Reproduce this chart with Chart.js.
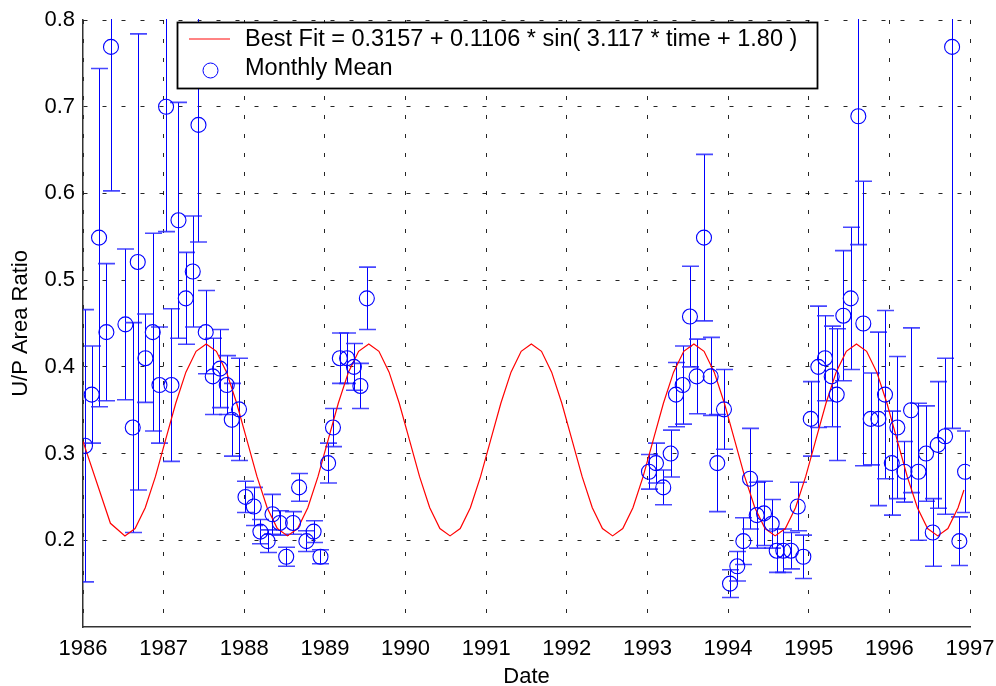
<!DOCTYPE html>
<html>
<head>
<meta charset="utf-8">
<script src="https://cdn.jsdelivr.net/npm/chart.js@4.4.1/dist/chart.umd.min.js"></script>
<style>
  html, body { margin: 0; padding: 0; background: #ffffff; }
  #wrap { width: 996px; height: 686px; position: relative; }
  canvas { display: block; }
</style>
</head>
<body>
<div id="wrap"><canvas id="c" width="996" height="686"></canvas></div>
<script>
// ---------- DATA ----------
const xTickYears = [1986, 1987, 1988, 1989, 1990, 1991, 1992, 1993, 1994, 1995, 1996, 1997];
const yTickValues = [0.2, 0.3, 0.4, 0.5, 0.6, 0.7, 0.8];

const monthTime = [
  1986.025, 1986.108, 1986.199, 1986.290, 1986.347, 1986.526, 1986.617, 1986.679, 1986.774, 1986.865, 1986.948,
  1987.030, 1987.097, 1987.184, 1987.274, 1987.361, 1987.432, 1987.522, 1987.609, 1987.700, 1987.783, 1987.845, 1987.935,
  1988.015, 1988.118, 1988.200, 1988.290, 1988.350, 1988.440, 1988.520, 1988.605, 1988.680, 1988.770, 1988.860, 1988.945,
  1989.040, 1989.100, 1989.185, 1989.275, 1989.360, 1989.440, 1989.520,
  1993.019, 1993.106, 1993.196, 1993.288, 1993.354, 1993.437, 1993.527, 1993.610, 1993.701, 1993.784, 1993.866, 1993.949,
  1994.024, 1994.114, 1994.189, 1994.272, 1994.355, 1994.445, 1994.541, 1994.603, 1994.685, 1994.780, 1994.864, 1994.933,
  1995.025, 1995.119, 1995.202, 1995.285, 1995.347, 1995.429, 1995.521, 1995.615, 1995.677, 1995.769, 1995.864, 1995.946,
  1996.030, 1996.099, 1996.186, 1996.269, 1996.360, 1996.455, 1996.538, 1996.600, 1996.691, 1996.778, 1996.868, 1996.939
];
const monthMean = [
  0.309, 0.368, 0.549, 0.440, 0.769, 0.449, 0.330, 0.521, 0.410, 0.440, 0.379,
  0.700, 0.379, 0.569, 0.479, 0.510, 0.679, 0.440, 0.389, 0.398, 0.379, 0.339, 0.351,
  0.250, 0.239, 0.210, 0.199, 0.230, 0.220, 0.181, 0.220, 0.261, 0.199, 0.210, 0.181,
  0.289, 0.330, 0.410, 0.410, 0.400, 0.378, 0.479,
  0.279, 0.289, 0.261, 0.300, 0.368, 0.379, 0.458, 0.389, 0.549, 0.389, 0.289, 0.351,
  0.150, 0.170, 0.199, 0.271, 0.229, 0.231, 0.219, 0.188, 0.188, 0.188, 0.239, 0.181,
  0.340, 0.400, 0.410, 0.389, 0.368, 0.459, 0.479, 0.689, 0.450, 0.340, 0.340, 0.368,
  0.289, 0.330, 0.279, 0.350, 0.279, 0.300, 0.209, 0.310, 0.320, 0.769, 0.199, 0.279
];
const monthErr = [
  0.157, 0.056, 0.195, 0.079, 0.166, 0.087, 0.121, 0.263, 0.051, 0.114, 0.067,
  0.144, 0.088, 0.136, 0.053, 0.064, 0.135, 0.048, 0.044, 0.045, 0.034, 0.042, 0.059,
  0.018, 0.022, 0.014, 0.013, 0.023, 0.014, 0.011, 0.013, 0.016, 0.012, 0.0125, 0.008,
  0.023, 0.022, 0.029, 0.029, 0.027, 0.026, 0.036,
  0.020, 0.023, 0.020, 0.027, 0.037, 0.045, 0.058, 0.043, 0.096, 0.045, 0.056, 0.046,
  0.016, 0.017, 0.027, 0.058, 0.038, 0.037, 0.028, 0.025, 0.025, 0.021, 0.028, 0.025,
  0.043, 0.070, 0.049, 0.058, 0.076, 0.075, 0.082, 0.148, 0.164, 0.053, 0.100, 0.097,
  0.060, 0.082, 0.035, 0.095, 0.079, 0.055, 0.039, 0.073, 0.090, 0.440, 0.028, 0.047
];

const fitTime = [
  1986.000, 1986.340,
  1986.520, 1986.646, 1986.772, 1986.898, 1987.024, 1987.150, 1987.276, 1987.402,
  1987.528, 1987.654, 1987.780, 1987.906, 1988.032, 1988.158, 1988.284, 1988.410,
  1988.536, 1988.662, 1988.788, 1988.914, 1989.040, 1989.166, 1989.292, 1989.418,
  1989.544, 1989.670, 1989.796, 1989.922, 1990.048, 1990.174, 1990.300, 1990.426,
  1990.552, 1990.678, 1990.804, 1990.930, 1991.056, 1991.182, 1991.308, 1991.434,
  1991.560, 1991.686, 1991.812, 1991.938, 1992.064, 1992.190, 1992.316, 1992.442,
  1992.568, 1992.694, 1992.820, 1992.946, 1993.072, 1993.198, 1993.324, 1993.450,
  1993.576, 1993.702, 1993.828, 1993.954, 1994.080, 1994.206, 1994.332, 1994.458,
  1994.584, 1994.710, 1994.836, 1994.962, 1995.088, 1995.214, 1995.340, 1995.466,
  1995.592, 1995.718, 1995.844, 1995.970, 1996.096, 1996.222, 1996.348, 1996.474,
  1996.600, 1996.726, 1996.852,
  1996.925
];
const fitValue = [
  0.3140, 0.2196,
  0.2051, 0.2135, 0.2375, 0.2734, 0.3157, 0.3580, 0.3939, 0.4179,
  0.4263, 0.4179, 0.3939, 0.3580, 0.3157, 0.2734, 0.2375, 0.2135,
  0.2051, 0.2135, 0.2375, 0.2734, 0.3157, 0.3580, 0.3939, 0.4179,
  0.4263, 0.4179, 0.3939, 0.3580, 0.3157, 0.2734, 0.2375, 0.2135,
  0.2051, 0.2135, 0.2375, 0.2734, 0.3157, 0.3580, 0.3939, 0.4179,
  0.4263, 0.4179, 0.3939, 0.3580, 0.3157, 0.2734, 0.2375, 0.2135,
  0.2051, 0.2135, 0.2375, 0.2734, 0.3157, 0.3580, 0.3939, 0.4179,
  0.4263, 0.4179, 0.3939, 0.3580, 0.3157, 0.2734, 0.2375, 0.2135,
  0.2051, 0.2135, 0.2375, 0.2734, 0.3157, 0.3580, 0.3939, 0.4179,
  0.4263, 0.4179, 0.3939, 0.3580, 0.3157, 0.2734, 0.2375, 0.2135,
  0.2051, 0.2135, 0.2375,
  0.2580
];

const fitLabel = 'Best Fit = 0.3157 + 0.1106 * sin( 3.117 * time + 1.80 )';
const meanLabel = 'Monthly Mean';
const xTitle = 'Date';
const yTitle = 'U/P Area Ratio';

// ---------- CHART ----------
const FONT = '"Liberation Sans", Arial, Helvetica, sans-serif';
const BLUE = '#0000ff';
const RED = '#ff0000';

const fitPoints = fitTime.map((t, i) => ({ x: t, y: fitValue[i] }));
const meanPoints = monthTime.map((t, i) => ({ x: t, y: monthMean[i] }));

const errorBarPlugin = {
  id: 'errorBars',
  beforeDatasetsDraw(chart) {
    const { ctx, chartArea, scales } = chart;
    const xs = scales.x, ys = scales.y;
    ctx.save();
    ctx.beginPath();
    ctx.rect(chartArea.left, chartArea.top - 1, chartArea.right - chartArea.left, chartArea.bottom - chartArea.top + 1);
    ctx.clip();
    const capHalf = 8.5;
    for (let i = 0; i < monthTime.length; i++) {
      const x = Math.round(xs.getPixelForValue(monthTime[i])) + 0.5;
      const yLo = ys.getPixelForValue(monthMean[i] - monthErr[i]);
      const yHi = ys.getPixelForValue(monthMean[i] + monthErr[i]);
      ctx.setLineDash([]);
      ctx.strokeStyle = BLUE;
      ctx.lineWidth = 1;
      ctx.beginPath();
      ctx.moveTo(x, yLo);
      ctx.lineTo(x, yHi);
      ctx.stroke();
      ctx.strokeStyle = 'rgba(40,40,255,0.85)';
      ctx.lineWidth = 1.6;
      ctx.beginPath();
      ctx.moveTo(x - capHalf, yLo); ctx.lineTo(x + capHalf, yLo);
      ctx.moveTo(x - capHalf, yHi); ctx.lineTo(x + capHalf, yHi);
      ctx.stroke();
    }
    ctx.restore();
  }
};

const legendPlugin = {
  id: 'insideLegend',
  afterDraw(chart) {
    const { ctx } = chart;
    const bx = 177.5, by = 22.5, bw = 640, bh = 66;
    ctx.save();
    ctx.setLineDash([]);
    ctx.fillStyle = '#ffffff';
    ctx.fillRect(bx, by, bw, bh);
    ctx.strokeStyle = '#000000';
    ctx.lineWidth = 1.8;
    ctx.strokeRect(bx, by, bw, bh);
    // line sample
    ctx.strokeStyle = 'rgb(255,90,90)';
    ctx.lineWidth = 1.6;
    ctx.beginPath();
    ctx.moveTo(189, 39);
    ctx.lineTo(230, 39);
    ctx.stroke();
    // marker sample
    ctx.strokeStyle = BLUE;
    ctx.lineWidth = 1;
    ctx.beginPath();
    ctx.arc(210.5, 70.5, 7.5, 0, Math.PI * 2);
    ctx.stroke();
    // texts
    ctx.fillStyle = '#000000';
    ctx.font = '23.5px ' + FONT;
    ctx.textBaseline = 'middle';
    ctx.textAlign = 'left';
    ctx.fillText(fitLabel, 245, 40);
    ctx.fillText(meanLabel, 245, 69);
    ctx.restore();
  }
};

new Chart(document.getElementById('c'), {
  data: {
    datasets: [
      {
        type: 'line',
        label: fitLabel,
        data: fitPoints,
        borderColor: RED,
        borderWidth: 1.2,
        pointRadius: 0,
        tension: 0,
        fill: false,
        order: 2
      },
      {
        type: 'scatter',
        label: meanLabel,
        data: meanPoints,
        borderColor: BLUE,
        backgroundColor: 'rgba(0,0,0,0)',
        borderWidth: 1.1,
        pointRadius: 7.5,
        pointHoverRadius: 7.5,
        pointStyle: 'circle',
        order: 1
      }
    ]
  },
  options: {
    responsive: false,
    animation: false,
    devicePixelRatio: 1,
    layout: { padding: { left: 0, right: 26, top: 20, bottom: 0 } },
    plugins: {
      legend: { display: false },
      tooltip: { enabled: false }
    },
    scales: {
      x: {
        type: 'linear',
        position: 'bottom',
        min: 1986,
        max: 1997,
        afterBuildTicks(scale) { scale.ticks = xTickYears.map(v => ({ value: v })); },
        afterFit(scale) { scale.height = 59; scale.paddingLeft = 0; scale.paddingRight = 0; },
        ticks: {
          color: '#000',
          font: { family: FONT, size: 22 },
          padding: 9,
          maxRotation: 0,
          autoSkip: false,
          callback: (v) => String(v)
        },
        grid: {
          color: 'rgba(0,0,0,0.85)',
          lineWidth: 1,
          drawTicks: false
        },
        border: { display: true, color: '#333', width: 1.5, dash: [4, 15], dashOffset: 0 },
        title: {
          display: true,
          text: xTitle,
          color: '#000',
          font: { family: FONT, size: 22, lineHeight: 0.8 },
          padding: { top: 0, bottom: 0 }
        }
      },
      y: {
        type: 'linear',
        position: 'left',
        min: 0.1,
        max: 0.8,
        afterBuildTicks(scale) { scale.ticks = yTickValues.map(v => ({ value: v })); },
        afterFit(scale) { scale.width = 83; scale.paddingTop = 0; scale.paddingBottom = 0; },
        ticks: {
          color: '#000',
          font: { family: FONT, size: 22 },
          padding: 8,
          callback: (v) => v.toFixed(1)
        },
        grid: {
          color: 'rgba(0,0,0,0.85)',
          lineWidth: 1,
          drawTicks: false
        },
        border: { display: true, color: '#333', width: 1.5, dash: [4, 15], dashOffset: 0 },
        title: {
          display: true,
          text: yTitle,
          color: '#000',
          font: { family: FONT, size: 22, lineHeight: 1.2 },
          padding: { top: 8, bottom: 0 }
        }
      }
    }
  },
  plugins: [errorBarPlugin, legendPlugin]
});
</script>
</body>
</html>
